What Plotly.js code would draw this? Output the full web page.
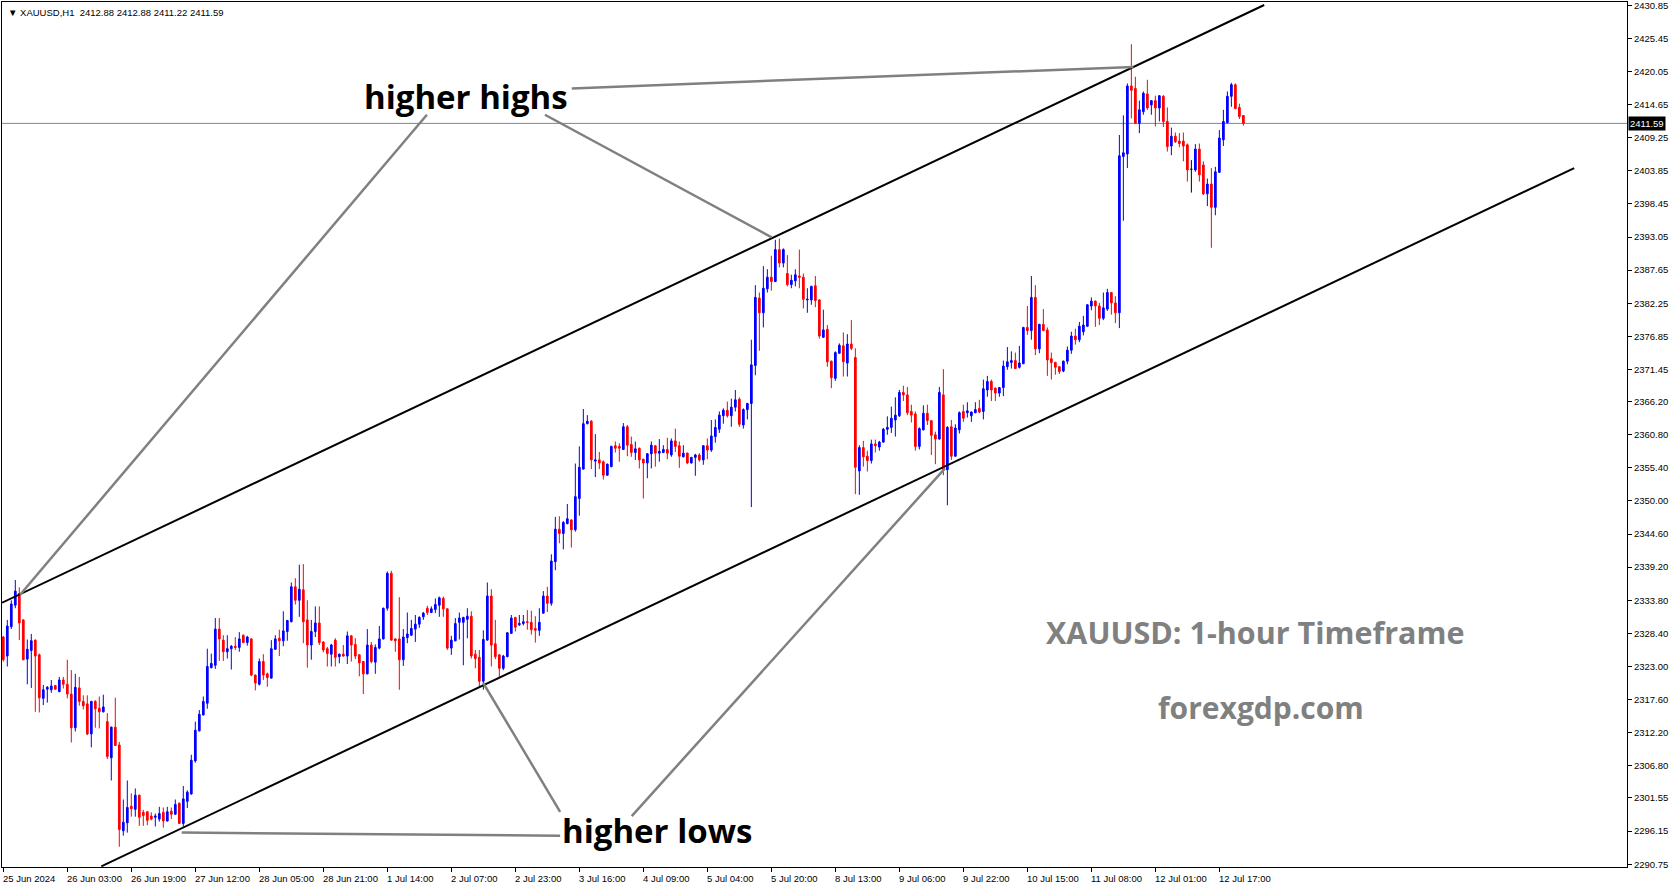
<!DOCTYPE html>
<html><head><meta charset="utf-8">
<script src="https://cdn.plot.ly/plotly-3.0.1.min.js"></script>
<style>html,body{margin:0;padding:0;background:#fff;overflow:hidden}#chart{width:1673px;height:888px}</style>
</head><body><div id="chart"></div>
<script>
// ---- XAUUSD H1 candles (bar index 0 = first visible bar, 25 Jun 2024) ----
const openP = [
2327.8,2324.7,2329.5,2333.0,2334.9,2330.6,2324.2,2325.6,2327.3,2324.9,
2317.8,2319.3,2319.2,2319.9,2318.9,2320.8,2320.1,2318.5,2313.0,2319.5,
2317.3,2316.9,2312.0,2317.3,2316.2,2315.6,2314.0,2308.1,2313.1,2310.2,
2296.2,2297.5,2300.2,2299.7,2302.0,2299.2,2299.3,2298.6,2298.4,2298.1,
2299.2,2297.8,2299.4,2298.9,2300.7,2297.4,2301.0,2302.2,2307.6,2312.5,
2315.1,2317.0,2322.8,2323.2,2329.1,2327.3,2325.4,2325.9,2326.3,2326.1,
2328.1,2326.9,2327.5,2321.6,2320.1,2323.8,2321.8,2321.1,2325.8,2327.6,
2327.2,2328.7,2330.3,2336.0,2333.8,2335.5,2330.6,2326.5,2328.7,2330.1,
2327.0,2325.9,2325.0,2327.3,2324.6,2325.0,2324.7,2328.0,2326.6,2324.9,
2323.8,2321.8,2326.5,2323.7,2326.0,2327.5,2332.5,2338.2,2327.5,2327.5,
2324.1,2327.7,2328.1,2329.1,2329.9,2331.1,2332.5,2331.8,2332.3,2333.0,
2334.1,2332.4,2326.0,2327.2,2330.2,2330.2,2330.7,2331.2,2325.0,2324.5,
2320.6,2327.3,2334.5,2326.7,2324.9,2322.7,2324.6,2328.4,2331.0,2329.8,
2330.0,2330.3,2330.2,2329.2,2328.9,2331.7,2334.5,2333.3,2340.1,2345.4,
2344.7,2346.3,2346.9,2345.3,2350.4,2355.2,2362.6,2363.0,2356.5,2356.7,
2356.4,2354.2,2355.6,2359.0,2358.9,2358.4,2362.1,2359.2,2357.9,2358.6,
2356.8,2356.2,2357.7,2359.0,2357.8,2357.9,2358.4,2357.5,2359.8,2359.0,
2357.2,2357.8,2356.2,2357.1,2357.5,2356.7,2359.0,2358.3,2360.5,2361.7,
2363.9,2364.8,2363.9,2365.3,2366.6,2362.4,2364.9,2365.9,2372.1,2383.1,
2380.7,2384.6,2386.5,2385.8,2391.0,2388.8,2387.1,2385.3,2385.9,2386.7,
2386.5,2382.8,2382.8,2385.1,2382.8,2376.7,2378.0,2372.8,2370.0,2374.1,
2375.3,2372.5,2375.6,2373.4,2354.9,2358.7,2357.3,2356.6,2359.3,2358.8,
2359.6,2361.7,2362.0,2363.2,2363.9,2367.7,2367.3,2364.6,2364.2,2358.9,
2361.6,2364.3,2363.1,2360.8,2360.1,2367.3,2355.1,2362.1,2357.3,2361.6,
2364.6,2364.4,2363.9,2364.4,2365.1,2364.6,2368.1,2369.5,2368.4,2367.6,
2368.5,2371.9,2372.6,2372.9,2371.8,2372.4,2378.3,2377.8,2383.2,2374.8,
2378.8,2377.9,2373.2,2372.6,2371.9,2371.2,2372.8,2374.6,2376.9,2376.3,
2377.6,2378.5,2381.8,2382.6,2381.8,2379.8,2381.3,2384.0,2382.3,2380.7,
2406.2,2406.6,2417.7,2417.3,2411.6,2413.5,2416.4,2414.6,2415.3,2414.1,
2416.0,2411.9,2407.9,2409.5,2408.7,2408.7,2408.1,2404.1,2404.0,2407.4,
2404.8,2400.1,2401.7,2397.9,2403.6,2408.9,2411.7,2416.0,2417.9,2414.2,
2412.88];
const highP = [
2328.0,2330.6,2333.8,2337.1,2335.9,2330.7,2327.4,2328.3,2327.4,2325.1,
2320.0,2319.8,2320.8,2320.0,2321.3,2321.3,2324.1,2322.4,2321.8,2321.3,
2318.3,2318.3,2317.4,2317.5,2318.1,2318.4,2315.4,2313.2,2317.9,2310.7,
2301.3,2304.4,2302.3,2303.1,2302.1,2299.6,2299.4,2299.2,2299.0,2300.1,
2300.0,2300.1,2300.0,2301.3,2300.8,2303.5,2302.8,2308.6,2314.0,2315.9,
2318.1,2325.9,2325.1,2330.9,2330.9,2328.1,2328.1,2326.5,2327.8,2328.6,
2328.2,2328.0,2327.6,2321.7,2324.3,2325.0,2322.0,2327.3,2328.1,2329.0,
2332.0,2330.6,2336.7,2337.4,2339.6,2339.7,2333.8,2330.6,2332.8,2332.8,
2327.1,2326.2,2326.7,2327.6,2325.1,2326.5,2328.7,2328.1,2327.6,2325.0,
2323.9,2329.1,2327.0,2326.6,2329.6,2332.6,2338.5,2338.6,2327.6,2334.3,
2329.1,2331.8,2330.6,2331.4,2331.2,2331.9,2332.9,2332.8,2334.1,2334.4,
2334.4,2332.5,2328.0,2330.9,2331.8,2331.1,2332.5,2332.0,2325.7,2325.7,
2328.9,2336.7,2335.6,2330.6,2325.0,2324.9,2328.6,2331.4,2331.1,2331.4,
2331.4,2332.2,2332.1,2331.2,2332.5,2335.3,2336.0,2341.3,2347.4,2347.5,
2346.7,2349.5,2347.0,2356.1,2358.9,2365.0,2364.0,2363.2,2360.9,2358.0,
2356.6,2356.1,2359.0,2359.7,2359.4,2362.7,2362.4,2360.5,2359.7,2358.7,
2356.9,2357.8,2359.7,2359.1,2360.1,2359.1,2360.3,2360.2,2361.8,2359.7,
2359.1,2357.9,2357.2,2357.7,2357.8,2359.1,2360.2,2363.2,2363.3,2364.6,
2365.1,2366.2,2366.7,2368.1,2366.9,2365.1,2366.0,2376.3,2385.2,2384.0,
2388.3,2387.8,2390.0,2392.6,2392.8,2391.2,2390.1,2386.9,2387.8,2391.0,
2387.1,2384.7,2385.1,2386.7,2382.9,2381.2,2378.7,2372.9,2374.4,2375.7,
2377.5,2377.2,2379.5,2374.9,2359.1,2359.8,2358.2,2360.0,2360.0,2359.8,
2361.9,2363.8,2365.4,2366.9,2368.1,2368.8,2368.6,2365.7,2364.6,2362.0,
2365.6,2365.7,2363.2,2361.3,2368.6,2371.5,2362.2,2363.2,2362.5,2364.6,
2365.7,2366.1,2364.6,2366.1,2366.5,2369.8,2370.4,2369.8,2368.5,2368.6,
2372.9,2375.1,2374.4,2374.2,2375.3,2378.4,2381.8,2386.7,2385.2,2378.9,
2381.3,2378.3,2374.2,2372.7,2372.0,2372.9,2375.2,2377.6,2378.1,2379.2,
2380.2,2382.1,2383.2,2382.7,2382.3,2384.0,2384.6,2384.1,2383.4,2409.7,
2412.9,2418.1,2424.5,2419.2,2415.3,2416.8,2418.7,2415.4,2416.1,2416.2,
2416.2,2414.2,2410.9,2410.1,2410.0,2410.1,2408.3,2405.6,2408.2,2408.3,
2405.4,2402.6,2404.3,2404.5,2410.5,2413.8,2416.8,2418.2,2418.1,2414.8,
2412.88];
const lowP = [
2323.8,2323.0,2329.1,2332.5,2327.3,2324.0,2320.1,2319.5,2315.6,2315.5,
2316.7,2317.1,2318.7,2319.2,2318.8,2319.4,2317.8,2310.6,2312.4,2316.6,
2316.0,2311.8,2309.8,2313.0,2312.9,2315.5,2307.9,2304.4,2310.1,2293.6,
2295.4,2295.9,2298.5,2298.5,2297.0,2297.0,2297.1,2297.9,2296.9,2297.7,
2296.7,2297.7,2298.1,2298.8,2297.3,2296.9,2299.9,2302.1,2307.3,2312.4,
2315.0,2316.1,2322.7,2322.6,2323.9,2323.9,2324.3,2322.5,2325.7,2325.4,
2326.8,2326.4,2321.4,2319.1,2319.9,2320.8,2319.7,2321.0,2325.7,2324.7,
2326.3,2327.2,2330.2,2333.1,2331.1,2326.8,2322.8,2324.1,2327.8,2326.5,
2325.3,2323.0,2323.0,2323.0,2323.5,2324.6,2323.4,2323.8,2324.2,2321.4,
2318.5,2321.7,2323.5,2321.8,2325.8,2327.4,2332.1,2327.2,2325.4,2319.2,
2323.1,2326.8,2328.0,2327.0,2329.3,2330.6,2331.4,2331.7,2331.7,2331.1,
2331.1,2325.7,2324.9,2327.1,2327.4,2323.2,2327.6,2324.3,2322.7,2319.8,
2319.2,2327.2,2323.0,2324.2,2321.3,2322.4,2324.5,2328.3,2328.7,2329.6,
2329.7,2329.0,2328.2,2326.9,2328.0,2331.6,2331.9,2332.9,2338.7,2343.1,
2342.1,2346.2,2342.4,2345.0,2347.6,2355.1,2362.5,2355.2,2353.9,2355.2,
2353.5,2354.1,2355.5,2357.9,2356.4,2358.3,2357.3,2357.2,2356.7,2355.3,
2350.4,2353.7,2355.3,2355.6,2356.4,2357.8,2356.8,2357.2,2358.0,2355.4,
2357.1,2356.0,2356.1,2354.1,2356.4,2355.9,2356.8,2358.0,2359.5,2361.1,
2362.6,2363.6,2362.1,2364.6,2362.1,2361.8,2363.3,2349.0,2370.5,2374.5,
2378.3,2384.0,2384.3,2385.7,2388.1,2388.1,2385.0,2384.7,2385.0,2384.7,
2381.4,2380.7,2382.0,2381.6,2376.5,2376.6,2371.9,2368.4,2369.6,2374.0,
2370.3,2370.3,2374.6,2351.1,2351.0,2355.6,2354.8,2356.1,2357.9,2358.2,
2359.5,2360.8,2361.1,2360.5,2363.7,2366.3,2364.0,2362.8,2358.2,2358.4,
2361.5,2362.4,2357.5,2356.0,2360.0,2354.2,2349.3,2356.7,2357.2,2361.0,
2362.9,2363.6,2362.9,2364.3,2364.3,2363.3,2367.0,2366.3,2366.3,2367.0,
2367.1,2371.4,2371.6,2371.5,2371.6,2372.3,2377.1,2376.3,2373.8,2374.1,
2377.7,2370.4,2369.8,2370.6,2370.7,2371.0,2372.3,2374.0,2375.5,2375.9,
2377.0,2378.4,2381.1,2378.4,2378.7,2379.5,2381.0,2380.4,2379.0,2378.2,
2395.7,2404.3,2412.4,2411.5,2410.0,2413.0,2413.8,2413.0,2411.1,2411.9,
2411.0,2407.0,2406.4,2408.4,2407.7,2405.4,2402.1,2400.3,2403.7,2402.1,
2399.9,2398.1,2391.3,2396.6,2403.5,2407.9,2411.6,2414.3,2413.9,2412.3,
2411.22];
const closeP = [
2324.1,2329.6,2333.2,2335.3,2330.1,2324.1,2325.8,2327.2,2324.7,2317.9,
2319.2,2319.6,2319.8,2319.3,2320.8,2320.1,2318.5,2313.0,2319.6,2317.3,
2316.6,2312.0,2317.3,2316.1,2315.6,2316.4,2308.3,2313.1,2310.1,2296.4,
2297.6,2300.0,2299.8,2302.0,2298.4,2298.7,2297.9,2298.1,2298.6,2299.0,
2297.8,2299.3,2298.9,2300.5,2297.4,2301.4,2302.5,2307.7,2312.6,2315.2,
2317.3,2323.0,2323.5,2329.1,2327.5,2325.4,2325.9,2326.3,2326.1,2327.5,
2326.9,2327.8,2321.6,2320.3,2323.8,2321.6,2321.2,2325.9,2327.5,2327.2,
2328.8,2330.5,2336.0,2333.8,2335.6,2330.3,2326.5,2328.7,2330.1,2326.9,
2325.7,2325.1,2326.5,2324.5,2325.0,2324.7,2328.0,2326.5,2324.7,2323.6,
2321.8,2326.5,2323.8,2326.1,2327.5,2332.5,2338.2,2327.3,2327.2,2324.1,
2327.8,2328.3,2329.2,2329.9,2331.0,2331.7,2331.8,2332.4,2333.1,2334.2,
2332.4,2326.0,2327.3,2330.0,2330.9,2331.0,2331.2,2324.7,2324.3,2320.6,
2327.4,2334.5,2326.5,2324.6,2322.7,2324.7,2328.5,2330.9,2329.4,2330.0,
2330.3,2330.2,2329.0,2328.9,2330.2,2334.5,2333.3,2340.2,2345.4,2344.7,
2346.5,2347.1,2345.3,2350.7,2355.5,2362.6,2363.0,2356.7,2356.7,2356.2,
2354.2,2356.0,2358.9,2358.6,2358.6,2362.1,2359.1,2357.9,2358.5,2356.7,
2356.2,2357.7,2359.1,2357.8,2358.1,2358.4,2357.8,2359.8,2358.9,2357.3,
2357.8,2356.2,2357.1,2357.5,2356.7,2359.0,2358.3,2360.6,2362.0,2364.0,
2364.8,2363.9,2365.3,2366.5,2362.5,2364.9,2365.9,2372.2,2383.2,2380.7,
2384.7,2386.5,2385.8,2391.0,2388.8,2391.0,2385.3,2386.0,2386.9,2386.5,
2382.9,2382.9,2385.0,2382.7,2376.9,2377.9,2372.7,2370.1,2374.2,2375.4,
2372.7,2375.6,2374.9,2355.5,2358.7,2357.2,2356.6,2359.3,2359.0,2359.6,
2361.7,2362.0,2363.5,2364.0,2367.7,2367.3,2364.4,2364.0,2358.9,2361.8,
2364.3,2363.1,2360.7,2360.1,2367.7,2355.1,2362.0,2357.3,2361.9,2364.4,
2363.5,2364.7,2364.5,2364.9,2364.5,2368.3,2369.5,2368.1,2367.6,2368.5,
2372.0,2372.7,2372.9,2371.6,2372.5,2378.3,2377.8,2383.2,2374.8,2378.8,
2377.8,2373.0,2372.6,2371.8,2371.1,2372.8,2374.6,2376.9,2376.3,2378.5,
2378.7,2382.0,2382.6,2381.8,2379.8,2381.5,2384.0,2382.3,2380.7,2406.3,
2406.8,2417.7,2417.0,2411.6,2413.8,2416.5,2414.1,2415.3,2414.1,2416.1,
2411.9,2407.8,2409.5,2408.6,2408.3,2407.9,2404.0,2404.1,2407.4,2403.2,
2400.1,2401.7,2397.9,2403.7,2409.2,2411.9,2416.0,2417.9,2414.0,2412.7,
2411.59];

// ---- axis labels ----
const timeLabels = ["25 Jun 2024","26 Jun 03:00","26 Jun 19:00","27 Jun 12:00","28 Jun 05:00","28 Jun 21:00",
  "1 Jul 14:00","2 Jul 07:00","2 Jul 23:00","3 Jul 16:00","4 Jul 09:00","5 Jul 04:00","5 Jul 20:00",
  "8 Jul 13:00","9 Jul 06:00","9 Jul 22:00","10 Jul 15:00","11 Jul 08:00","12 Jul 01:00","12 Jul 17:00"];
const priceTicks = ["2430.85","2425.45","2420.05","2414.65","2409.25","2403.85","2398.45","2393.05","2387.65",
  "2382.25","2376.85","2371.45","2366.20","2360.80","2355.40","2350.00","2344.60","2339.20","2333.80",
  "2328.40","2323.00","2317.60","2312.20","2306.80","2301.55","2296.15","2290.75"];

// ---- last quote / bid ----
const symbolName = "XAUUSD,H1";
const lastOHLC = [2412.88, 2412.88, 2411.22, 2411.59];
const bidPrice = 2411.59;

// ---- drawn objects (bar index, price) ----
const upperChannelBars = [-0.3, 315.2];
const upperChannelPrices = [2333.4, 2430.9];
const lowerChannelBars = [24.5, 392.7];
const lowerChannelPrices = [2290.4, 2404.3];
const highsPointerBars = [[105.9, 4.2], [135.4, 192.1], [142.1, 282.5]];
const highsPointerPrices = [[2413.0, 2334.7], [2413.0, 2393.0], [2417.3, 2420.8]];
const lowsPointerBars = [[120.0, 139.2], [157.1, 235.4], [44.6, 139.2]];
const lowsPointerPrices = [[2320.3, 2299.3], [2298.6, 2355.3], [2295.9, 2295.4]];

const BARS_PER_LABEL = 16;
const bars = openP.map((_, i) => i);
const isDoji = bars.map(i => openP[i] === closeP[i]);
const pick = (arr, want) => arr.filter((_, i) => isDoji[i] === want);

const tickBars = timeLabels.map((_, k) => k * BARS_PER_LABEL);
const MT = 'Liberation Sans, Arial, sans-serif';
const TXT = 'Open Sans, sans-serif';

const traces = [
  {type:'candlestick', x:pick(bars,false), open:pick(openP,false), high:pick(highP,false), low:pick(lowP,false), close:pick(closeP,false),
   increasing:{line:{color:'#0000ff', width:1}, fillcolor:'#0000ff'},
   decreasing:{line:{color:'#ff0000', width:1}, fillcolor:'#ff0000'},
   whiskerwidth:0, hoverinfo:'skip', showlegend:false},
  {type:'candlestick', x:pick(bars,true), open:pick(openP,true), high:pick(highP,true), low:pick(lowP,true), close:pick(closeP,true),
   increasing:{line:{color:'#000000', width:1}, fillcolor:'#000000'},
   decreasing:{line:{color:'#000000', width:1}, fillcolor:'#000000'},
   whiskerwidth:0, hoverinfo:'skip', showlegend:false}
];

const shapes = [];
shapes.push({type:'line', xref:'paper', x0:0, x1:1, yref:'y', y0:bidPrice, y1:bidPrice, line:{color:'#778899', width:1}, layer:'below'});
shapes.push({type:'line', xref:'x', yref:'y', x0:upperChannelBars[0], x1:upperChannelBars[1], y0:upperChannelPrices[0], y1:upperChannelPrices[1], line:{color:'#000', width:2}});
shapes.push({type:'line', xref:'x', yref:'y', x0:lowerChannelBars[0], x1:lowerChannelBars[1], y0:lowerChannelPrices[0], y1:lowerChannelPrices[1], line:{color:'#000', width:2}});
highsPointerBars.concat(lowsPointerBars).forEach((b, k) => {
  const p = k < highsPointerBars.length ? highsPointerPrices[k] : lowsPointerPrices[k - highsPointerBars.length];
  shapes.push({type:'line', xref:'x', yref:'y', x0:b[0], x1:b[1], y0:p[0], y1:p[1], line:{color:'#808080', width:2.5}});
});

const annotations = [];
timeLabels.forEach((t, k) => annotations.push({
  text:t, x:tickBars[k], xref:'x', y:0, yref:'paper', xanchor:'left', yanchor:'top',
  xshift:-2, yshift:-4, showarrow:false, font:{family:MT, size:9.5, color:'#000'}
}));
annotations.push({text:'\u25BC ' + symbolName + '\u00a0\u00a0' + lastOHLC.map(v => v.toFixed(2)).join(' '),
  xref:'paper', yref:'paper', x:0, y:1, xanchor:'left', yanchor:'top', xshift:4, yshift:-3,
  showarrow:false, font:{family:MT, size:9.5, color:'#000'}});
annotations.push({text:bidPrice.toFixed(2), xref:'paper', x:1, yref:'y', y:bidPrice, xanchor:'left', yanchor:'middle',
  xshift:1, showarrow:false, bgcolor:'#000', borderpad:1, font:{family:MT, size:9.5, color:'#fff'}});
annotations.push({text:'<b>higher highs</b>', x:115.7, y:2416.0, xref:'x', yref:'y', showarrow:false,
  font:{family:TXT, size:33, color:'#000'}});
annotations.push({text:'<b>higher lows</b>', x:163.3, y:2296.3, xref:'x', yref:'y', showarrow:false,
  font:{family:TXT, size:33, color:'#000'}});
annotations.push({text:'<b>XAUUSD: 1-hour Timeframe</b>', x:313.0, y:2328.6, xref:'x', yref:'y', showarrow:false,
  font:{family:TXT, size:30.5, color:'#808080'}});
annotations.push({text:'<b>forexgdp.com</b>', x:314.4, y:2316.3, xref:'x', yref:'y', showarrow:false,
  font:{family:TXT, size:30, color:'#808080'}});

const layout = {
  width:1673, height:888,
  margin:{l:2, r:46, t:2, b:21, pad:0},
  paper_bgcolor:'#ffffff', plot_bgcolor:'#ffffff',
  showlegend:false, boxgap:0.4,
  font:{family:MT, size:10, color:'#000'},
  xaxis:{type:'linear', range:[-0.325, 405.9], showgrid:false, zeroline:false, showline:true, mirror:true,
    linecolor:'#000', linewidth:1, ticks:'outside', ticklen:4, tickcolor:'#000', tickwidth:1,
    tickvals:tickBars, showticklabels:false, rangeslider:{visible:false}, fixedrange:true},
  yaxis:{range:[2290.29, 2431.39], side:'right', showgrid:false, zeroline:false, showline:true, mirror:true,
    linecolor:'#000', linewidth:1, ticks:'outside', ticklen:4, tickcolor:'#000', tickwidth:1,
    tickvals:priceTicks.map(Number), ticktext:priceTicks, ticklabeloverflow:'allow',
    tickfont:{family:MT, size:9.5, color:'#000'}, fixedrange:true},
  shapes:shapes, annotations:annotations
};

Plotly.newPlot('chart', traces, layout, {staticPlot:true, displayModeBar:false});
</script></body></html>
